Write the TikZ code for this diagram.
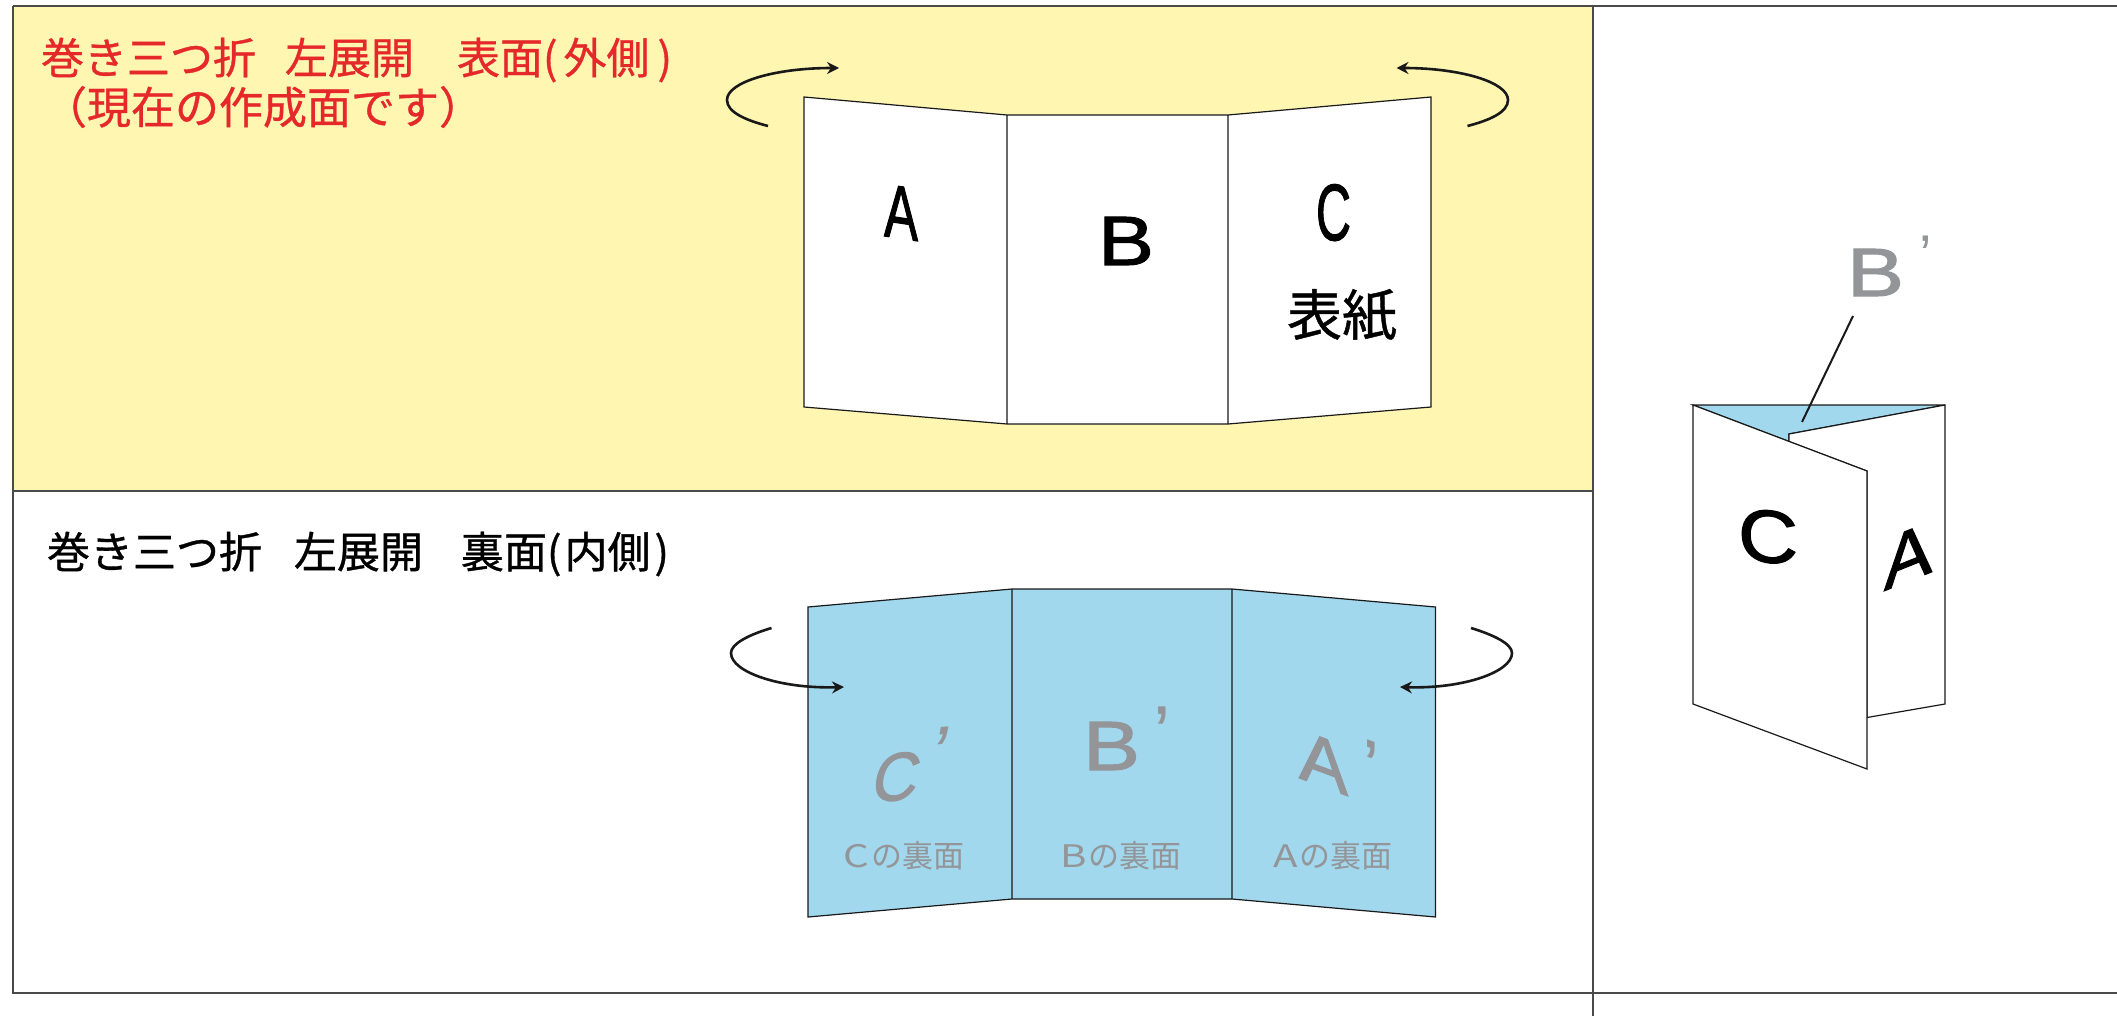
\documentclass[tikz,border=0pt]{standalone}
\usepackage{fontspec}
\usepackage{graphicx}
\setmainfont{Liberation Sans}
\newfontfamily\cjk[FakeBold=0.8]{Noto Sans CJK JP}
\newfontfamily\cjklight{Noto Sans CJK JP}
\newfontfamily\heavy[FakeBold=1.5]{Liberation Sans}
\usetikzlibrary{arrows.meta}
\definecolor{paleyellow}{HTML}{FFF6B2}
\definecolor{foldblue}{HTML}{A2D8EE}
\definecolor{softgray}{HTML}{939598}
\definecolor{titlered}{HTML}{E5282A}
\definecolor{rulegray}{HTML}{4A4A4A}
\newcommand{\fitletter}[3]{\resizebox{#2pt}{#3pt}{\heavy #1}}
\newcommand{\primedletter}[6]{\resizebox{#2pt}{#3pt}{\heavy #1}\hspace{#4pt}\raisebox{#5pt}{\fontsize{#6pt}{#6pt}\selectfont ’}}
\newcommand{\widelatin}[1]{\scalebox{1.3}[1]{#1}\kern2pt}
\tikzset{
  frameline/.style={draw=rulegray,line width=1.3pt},
  panelline/.style={draw=black!90,line width=1.2pt},
  turnarrow/.style={draw=black!90,line width=2.6pt,-{Stealth[length=12pt,width=12pt,inset=4pt]}},
  title/.style={inset0,anchor=west,font=\cjk\fontsize{43pt}{43pt}\selectfont},
  inset0/.style={inner sep=0pt,outer sep=0pt},
  glyph/.style={inset0,anchor=south west,transform shape},
  backlabel/.style={inset0,text=softgray,font=\cjklight\fontsize{31pt}{31pt}\selectfont},
}
\begin{document}
\begin{tikzpicture}[x=1pt,y=-1pt]
\useasboundingbox (0,0) rectangle (2117,1016);
\fill[white] (0,0) rectangle (2117,1016);
% frame
\fill[paleyellow] (13,6) rectangle (1593,491);
\coordinate (tl) at (13,6);
\coordinate (tr) at (2117,6);
\coordinate (ml) at (13,491);
\coordinate (mr) at (1593,491);
\coordinate (bl) at (13,993);
\coordinate (br) at (2117,993);
\coordinate (vt) at (1593,6);
\coordinate (vb) at (1593,1016);
\draw[frameline] (tl)--(tr) (tl)--(bl)--(br) (ml)--(mr) (vt)--(vb);
% top titles
\node[title,text=titlered] (t1) at (41,60) {巻き三つ折\hspace{29pt}左展開\hspace{43pt}表面(\kern6pt 外側\kern8pt)};
\node[title,text=titlered,font=\cjk\fontsize{44pt}{44pt}\selectfont] (t2) at (43,107) {（現在の作成面です）};
\node[title,text=black] (t3) at (47,554) {巻き三つ折\hspace{32pt}左展開\hspace{38pt}裏面(\kern3pt 内側\kern4pt)};
% top folded sheet
\path[panelline,fill=white] (804,97)--(1007,115)--(1228,115)--(1431,97)--(1431,407)--(1228,424)--(1007,424)--(804,407)--cycle (1007,115)--(1007,424) (1228,115)--(1228,424);
\node[glyph,yslant=-0.15] (a1) at (884,236) {\fitletter{A}{34}{52}};
\node[glyph] (b1) at (1098,265) {\fitletter{B}{56}{48}};
\node[glyph] (c1) at (1316,241) {\fitletter{C}{35}{56}};
\node[inset0,font=\cjk\fontsize{55pt}{55pt}\selectfont] (hyoshi) at (1342,315) {表紙};
\coordinate (a1s) at (768,126); \coordinate (a1t) at (839,68);
\coordinate (a2s) at (1467.5,126); \coordinate (a2t) at (1396.5,68);
\draw[turnarrow] (a1s) .. controls (745,120) and (727,112) .. (727,100) .. controls (727,82) and (775,68) .. (a1t);
\draw[turnarrow] (a2s) .. controls (1490.5,120) and (1508,112) .. (1508,100) .. controls (1508,82) and (1460,68) .. (a2t);
% bottom folded sheet
\path[panelline,fill=foldblue] (808,607)--(1012,589)--(1232,589)--(1435.5,607)--(1435.5,917)--(1232,899)--(1012,899)--(808,917)--cycle (1012,589)--(1012,899) (1232,589)--(1232,899);
\node[glyph,text=softgray,xslant=0.2,yslant=0.08] (c2) at (869,803) {\primedletter{C}{45}{48}{7}{17}{78}};
\node[glyph,text=softgray] (b2) at (1083,770) {\primedletter{B}{57}{48}{13}{10}{78}};
\node[glyph,text=softgray,yslant=-0.37] (a2) at (1299,778) {\primedletter{A}{49}{49}{14}{10}{78}};
\node[backlabel] (l1) at (904,856) {\widelatin{C}の裏面};
\node[backlabel] (l2) at (1121,856) {\widelatin{B}の裏面};
\node[backlabel] (l3) at (1333,856) {\widelatin{A}の裏面};
\coordinate (a3s) at (771.5,628); \coordinate (a3t) at (844,687);
\coordinate (a4s) at (1471,628); \coordinate (a4t) at (1400,687);
\draw[turnarrow] (a3s) .. controls (748,635) and (731,644) .. (731,653) .. controls (731,672) and (780,689) .. (a3t);
\draw[turnarrow] (a4s) .. controls (1494,635) and (1512,644) .. (1512,653) .. controls (1512,672) and (1463,689) .. (a4t);
% folded leaflet
\path[panelline,fill=foldblue] (1693,405)--(1945,405)--(1789,434)--(1789,441.5)--cycle;
\path[panelline,fill=white] (1789,434)--(1945,405)--(1945,704)--(1867,717.5)--(1867,471)--(1789,441.5)--cycle;
\path[panelline,fill=white] (1693,405)--(1867,471)--(1867,769)--(1693,704)--cycle;
\node[glyph,yslant=-0.1] (c3) at (1738,560) {\fitletter{C}{60}{52}};
\node[glyph,yslant=0.4] (a3) at (1884,591) {\fitletter{A}{48}{51}};
\node[glyph,text=softgray] (b3) at (1847,296) {\primedletter{B}{57}{47}{15}{21}{56}};
\coordinate (leadtop) at (1853,316);
\coordinate (leadend) at (1802,422);
\draw[line width=2pt,draw=black!90] (leadtop)--(leadend);
\end{tikzpicture}
\end{document}
